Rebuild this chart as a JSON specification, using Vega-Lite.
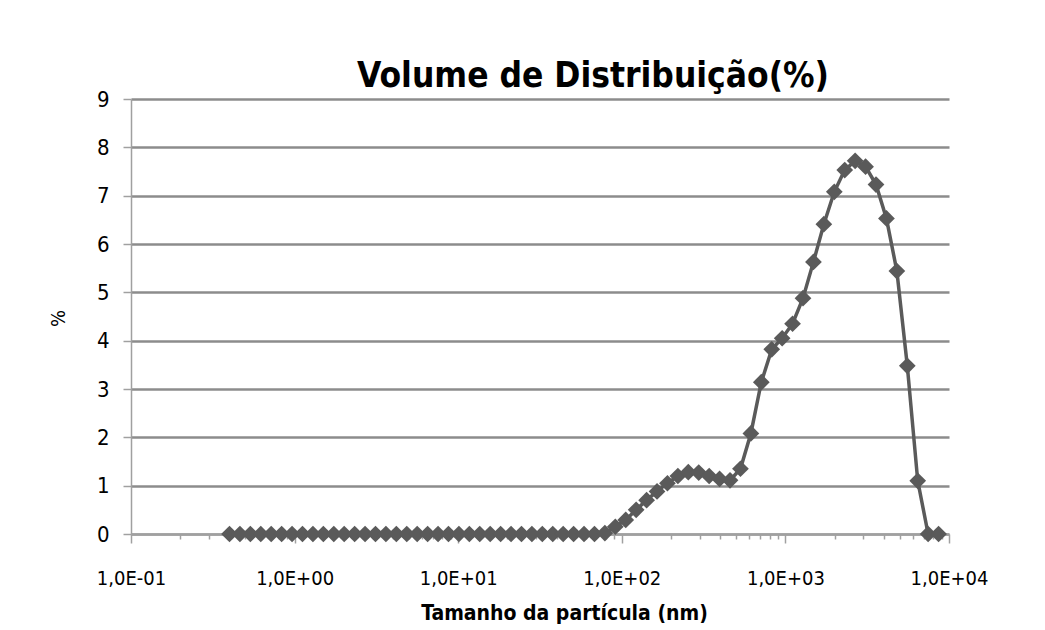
{
  "$schema": "https://vega.github.io/schema/vega-lite/v6.json",
  "width": 818,
  "height": 435,
  "autosize": "none",
  "padding": {"left": 131, "top": 99, "right": 96, "bottom": 96},
  "background": "white",
  "config": {"view": {"stroke": null}, "font": "DejaVu Sans Condensed, sans-serif"},
  "title": {
    "text": "Volume de Distribuição(%)",
    "fontSize": 35,
    "fontWeight": "bold",
    "color": "black",
    "anchor": "middle",
    "frame": "group",
    "dx": 53,
    "dy": 44,
    "offset": 10,
    "baseline": "alphabetic"
  },
  "data": {
    "values": [
      {"size": 0.4, "pct": 0}, {"size": 0.4632, "pct": 0}, {"size": 0.5365, "pct": 0}, {"size": 0.6213, "pct": 0},
      {"size": 0.7195, "pct": 0}, {"size": 0.8332, "pct": 0}, {"size": 0.9649, "pct": 0}, {"size": 1.117, "pct": 0},
      {"size": 1.294, "pct": 0}, {"size": 1.499, "pct": 0}, {"size": 1.736, "pct": 0}, {"size": 2.01, "pct": 0},
      {"size": 2.328, "pct": 0}, {"size": 2.696, "pct": 0}, {"size": 3.122, "pct": 0}, {"size": 3.615, "pct": 0},
      {"size": 4.187, "pct": 0}, {"size": 4.849, "pct": 0}, {"size": 5.615, "pct": 0}, {"size": 6.503, "pct": 0},
      {"size": 7.531, "pct": 0}, {"size": 8.721, "pct": 0}, {"size": 10.1, "pct": 0}, {"size": 11.7, "pct": 0},
      {"size": 13.54, "pct": 0}, {"size": 15.69, "pct": 0}, {"size": 18.17, "pct": 0}, {"size": 21.04, "pct": 0},
      {"size": 24.36, "pct": 0}, {"size": 28.21, "pct": 0}, {"size": 32.67, "pct": 0}, {"size": 37.84, "pct": 0},
      {"size": 43.82, "pct": 0}, {"size": 50.75, "pct": 0}, {"size": 58.77, "pct": 0}, {"size": 68.06, "pct": 0},
      {"size": 78.82, "pct": 0.02}, {"size": 91.28, "pct": 0.15}, {"size": 105.7, "pct": 0.29}, {"size": 122.4, "pct": 0.5},
      {"size": 141.8, "pct": 0.7}, {"size": 164.2, "pct": 0.88}, {"size": 190.1, "pct": 1.05}, {"size": 220.2, "pct": 1.2},
      {"size": 255.0, "pct": 1.28}, {"size": 295.3, "pct": 1.27}, {"size": 342.0, "pct": 1.2}, {"size": 396.1, "pct": 1.14},
      {"size": 458.7, "pct": 1.11}, {"size": 531.2, "pct": 1.35}, {"size": 615.1, "pct": 2.08}, {"size": 712.4, "pct": 3.14},
      {"size": 825.0, "pct": 3.82}, {"size": 955.4, "pct": 4.05}, {"size": 1106, "pct": 4.35}, {"size": 1281, "pct": 4.88},
      {"size": 1484, "pct": 5.63}, {"size": 1718, "pct": 6.41}, {"size": 1990, "pct": 7.08}, {"size": 2305, "pct": 7.53},
      {"size": 2669, "pct": 7.72}, {"size": 3091, "pct": 7.6}, {"size": 3580, "pct": 7.23}, {"size": 4145, "pct": 6.53},
      {"size": 4801, "pct": 5.44}, {"size": 5560, "pct": 3.48}, {"size": 6439, "pct": 1.1}, {"size": 7456, "pct": 0},
      {"size": 8635, "pct": 0}
    ]
  },
  "mark": {
    "type": "line",
    "color": "#5a5a5a",
    "strokeWidth": 3.5,
    "point": {"shape": "diamond", "size": 280, "filled": true, "color": "#5a5a5a", "opacity": 1}
  },
  "encoding": {
    "x": {
      "field": "size",
      "type": "quantitative",
      "scale": {"type": "log", "domain": [0.1, 10000], "nice": false},
      "axis": {
        "values": [0.1, 0.2, 0.3, 0.4, 0.5, 0.6, 0.7, 0.8, 0.9, 1, 2, 3, 4, 5, 6, 7, 8, 9, 10, 20, 30, 40, 50, 60, 70, 80, 90, 100, 200, 300, 400, 500, 600, 700, 800, 900, 1000, 2000, 3000, 4000, 5000, 6000, 7000, 8000, 9000, 10000],
        "labelExpr": "abs(log(datum.value)/LN10 - round(log(datum.value)/LN10)) < 0.001 ? '1,0E' + (round(log(datum.value)/LN10) < 0 ? '-' : '+') + '0' + abs(round(log(datum.value)/LN10)) : ''",
        "tickSize": {"condition": {"test": "abs(log(datum.value)/LN10 - round(log(datum.value)/LN10)) < 0.001", "value": 9}, "value": 5},
        "tickColor": "#a0a0a0",
        "tickWidth": 1.5,
        "domainColor": "#a0a0a0",
        "domainWidth": 1.5,
        "grid": false,
        "labelFontSize": 20,
        "labelColor": "black",
        "labelPadding": 25,
        "labelOverlap": false,
        "labelFlush": false,
        "title": "Tamanho da partícula (nm)",
        "titleFontSize": 21,
        "titleFontWeight": "bold",
        "titleColor": "black",
        "titleX": 433,
        "titleY": 79,
        "titleBaseline": "middle"
      }
    },
    "y": {
      "field": "pct",
      "type": "quantitative",
      "scale": {"domain": [0, 9], "nice": false},
      "axis": {
        "values": [0, 1, 2, 3, 4, 5, 6, 7, 8, 9],
        "grid": true,
        "gridColor": "#8c8c8c",
        "gridWidth": 2.5,
        "domainColor": "#a0a0a0",
        "domainWidth": 1.5,
        "tickColor": "#a0a0a0",
        "tickWidth": 1.5,
        "tickSize": 8,
        "labelFontSize": 22,
        "labelColor": "black",
        "labelPadding": 14,
        "title": "%",
        "titleFontSize": 20,
        "titleFontWeight": "normal",
        "titleColor": "black",
        "titleAngle": -90,
        "titleX": -73,
        "titleY": 219,
        "titleAlign": "center",
        "titleBaseline": "middle"
      }
    }
  }
}
